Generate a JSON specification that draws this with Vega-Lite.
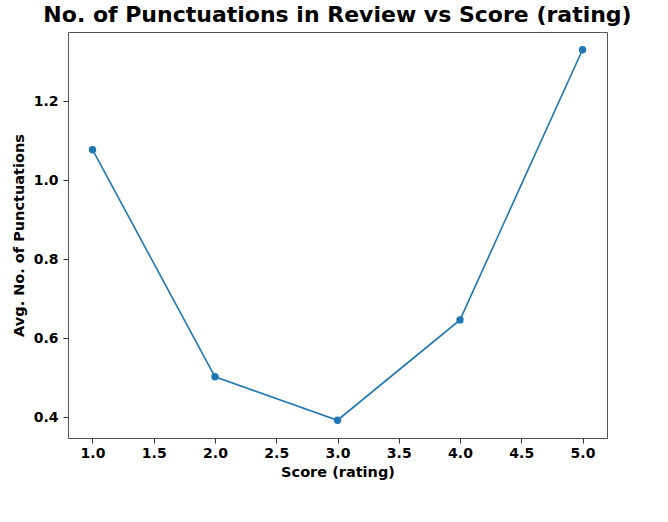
{
  "$schema": "https://vega.github.io/schema/vega-lite/v6.json",
  "autosize": "none",
  "width": 539,
  "height": 406,
  "padding": {"left": 68, "top": 32, "right": 61, "bottom": 84},
  "background": "white",
  "title": {
    "text": "No. of Punctuations in Review vs Score (rating)",
    "fontSize": 22,
    "fontWeight": "bold",
    "font": "DejaVu Sans",
    "color": "black",
    "anchor": "middle",
    "offset": 5
  },
  "config": {
    "view": {"stroke": "#555555", "strokeWidth": 1},
    "axis": {
      "grid": false,
      "domain": false,
      "tickColor": "#333333",
      "tickSize": 5,
      "labelFont": "DejaVu Sans",
      "labelFontSize": 14,
      "labelFontWeight": "bold",
      "labelColor": "black",
      "titleFont": "DejaVu Sans",
      "titleFontSize": 14.5,
      "titleFontWeight": "bold",
      "titleColor": "black"
    }
  },
  "data": {
    "values": [
      {"score": 1, "punct": 1.077},
      {"score": 2, "punct": 0.502},
      {"score": 3, "punct": 0.392},
      {"score": 4, "punct": 0.646},
      {"score": 5, "punct": 1.330}
    ]
  },
  "mark": {"type": "line", "color": "#1f77b4", "strokeWidth": 1.6, "point": {"filled": true, "size": 55, "color": "#1f77b4"}},
  "encoding": {
    "x": {
      "field": "score", "type": "quantitative", "title": "Score (rating)",
      "scale": {"domain": [0.8, 5.2], "nice": false, "zero": false},
      "axis": {"values": [1, 1.5, 2, 2.5, 3, 3.5, 4, 4.5, 5], "format": ".1f", "labelPadding": 3, "titlePadding": 5}
    },
    "y": {
      "field": "punct", "type": "quantitative", "title": "Avg. No. of Punctuations",
      "scale": {"domain": [0.347, 1.375], "nice": false, "zero": false},
      "axis": {"values": [0.4, 0.6, 0.8, 1.0, 1.2], "format": ".1f", "labelPadding": 5, "titlePadding": 7}
    }
  }
}
